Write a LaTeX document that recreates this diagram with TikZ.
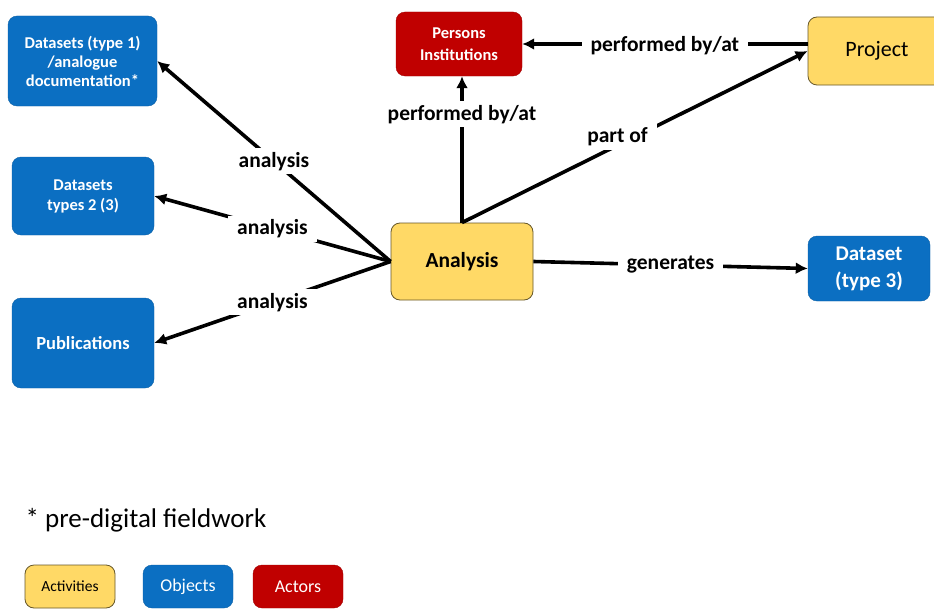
\documentclass[tikz,border=0pt]{standalone}
\usepackage{fontspec}
\setmainfont{Carlito}
\usepackage{xcolor}
\usepackage{tikz}
\usetikzlibrary{arrows.meta}

\definecolor{objblue}{HTML}{0B6FC2}
\definecolor{actyellow}{HTML}{FFD966}
\definecolor{actorred}{HTML}{C00000}

\tikzset{
    box/.style={rounded corners=9pt, align=center, inner sep=2pt},
    objbox/.style={box, fill=objblue, draw=objblue!85!black, text=white},
    actbox/.style={box, fill=actyellow, draw=black!60!actyellow, line width=0.8pt},
    actorbox/.style={box, fill=actorred, draw=actorred!85!black, text=white},
    rel/.style={line width=3.6pt, -{Latex[length=12pt,width=12pt]}},
    lbl/.style={fill=white, inner xsep=9pt, inner ysep=4pt, font=\bfseries\fontsize{21.5}{24}\selectfont}
}

\begin{document}
\begin{tikzpicture}[x=1pt, y=-1pt]
            \clip (0,0) rectangle (934,610);
            \fill[white] (0,0) rectangle (934,610);

            \node[objbox, minimum width=149pt, minimum height=90pt,
                font=\bfseries\fontsize{16.5}{19}\selectfont] (ds1) at (82.5,61)
                {Datasets (type 1)\\/analogue\\documentation*};
            \node[objbox, minimum width=142pt, minimum height=78pt,
                font=\bfseries\fontsize{16.5}{20}\selectfont] (ds2) at (83,196)
                {Datasets\\types 2 (3)};
            \node[objbox, minimum width=142pt, minimum height=90pt,
                font=\bfseries\fontsize{18.5}{20}\selectfont] (pub) at (83,343)
                {Publications};
            \node[actorbox, minimum width=126pt, minimum height=64pt,
                font=\bfseries\fontsize{16.5}{22}\selectfont] (pers) at (459,44)
                {Persons\\Institutions};
            \node[actbox, minimum width=138pt, minimum height=68pt,
                font=\fontsize{22}{24}\selectfont] (proj) at (877,51)
                {Project};
            \node[actbox, minimum width=142pt, minimum height=77pt,
                font=\bfseries\fontsize{21.5}{24}\selectfont] (ana) at (462,261.5)
                {Analysis};
            \node[objbox, minimum width=122pt, minimum height=65pt,
                font=\bfseries\fontsize{21}{27}\selectfont] (ds3) at (869,268.5)
                {Dataset\\(type 3)};

            \draw[rel] (ana.west) -- node[lbl] {analysis} (ds1.east);
            \draw[rel] (ana.west) -- node[lbl] {analysis} (ds2.east);
            \draw[rel] (ana.west) -- node[lbl] {analysis} (pub.east);
            \draw[rel] (ana.north) -- node[lbl, pos=0.74] {performed by/at} (ana.north |- pers.south);
            \draw[rel] (ana.north) -- node[lbl, pos=0.45, yshift=9pt] {part of} (proj.west);
            \draw[rel] (proj.west |- pers.east) -- node[lbl, yshift=-2pt] {performed by/at} (pers.east);
            \draw[rel] (ana.east) -- node[lbl] {generates} (ds3.west);

            \node[anchor=west, font=\fontsize{27}{30}\selectfont] (note) at (22,520) {* pre-digital fieldwork};

            \node[actbox, minimum width=90pt, minimum height=43pt,
                font=\fontsize{15.5}{18}\selectfont] (legact) at (70,586.5) {Activities};
            \node[objbox, minimum width=90pt, minimum height=43pt,
                font=\fontsize{18}{20}\selectfont] (legobj) at (188,586.5) {Objects};
            \node[actorbox, minimum width=90pt, minimum height=43pt,
                font=\fontsize{18}{20}\selectfont] (legactor) at (298,586.5) {Actors};
        \end{tikzpicture}
\end{document}
